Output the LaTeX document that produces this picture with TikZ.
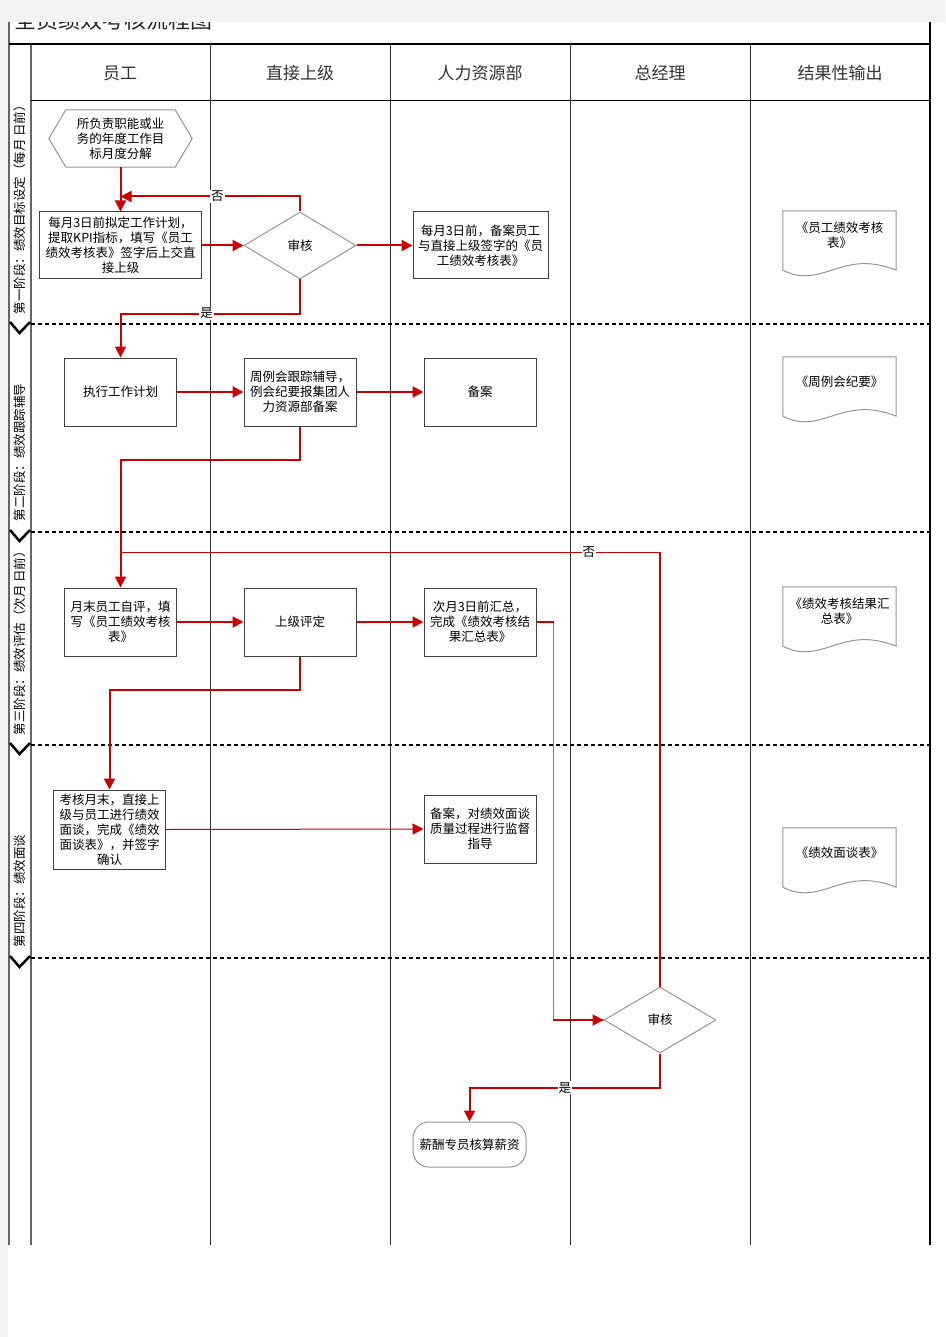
\documentclass[tikz,border=0pt]{standalone}
\usepackage{fontspec}
\setmainfont{Noto Sans CJK SC}
\usetikzlibrary{arrows.meta,calc,shapes.geometric}
\definecolor{flowred}{RGB}{204,0,0}
\definecolor{lightred}{RGB}{222,90,90}
\definecolor{edgegray}{RGB}{150,150,150}
\definecolor{pagegray}{RGB}{243,243,243}

\begin{document}
\begin{tikzpicture}[x=1pt,y=-1pt,
  every node/.style={font=\fontsize{12.5}{15}\selectfont},
  >={Triangle[length=11pt,width=11pt]},
  box/.style={draw=black!75,line width=1pt,fill=white,minimum width=112pt,minimum height=68pt,inner sep=1pt,align=center},
  check/.style={diamond,draw=edgegray,line width=1pt,fill=white,minimum width=112pt,minimum height=67pt,inner sep=0pt},
  docnode/.style={minimum width=113pt,minimum height=49pt,inner sep=0pt,align=center},
  docline/.style={draw=edgegray,line width=1pt,fill=white},
  flow/.style={draw=flowred,line width=2pt,->},
  thinflow/.style={draw=flowred,line width=1pt,->},
  lbl/.style={fill=white,inner sep=1pt},
  lane/.style={draw=black!80,line width=0.8pt},
  sepline/.style={line width=2.5pt,dash pattern=on 4pt off 3pt},
  chev/.style={line width=2.5pt}]
\useasboundingbox (0,0) rectangle (945,1337);
\fill[white] (0,0) rectangle (945,1337);
% title, cut at the top of the sheet
\node[anchor=base west,font=\fontsize{22}{26}\selectfont,text=black!85] (title) at (11,29) {全员绩效考核流程图};
\fill[pagegray] (0,0) rectangle (945,22);
\fill[pagegray] (0,0) rectangle (8,1337);
% frame and lanes
\draw[black!60,line width=1.5pt] (9,22) -- (9,1245);
\draw[black!60,line width=1.5pt] (31,44) -- (31,1245);
\draw[line width=2pt] (930,22) -- (930,1245);
\draw[line width=2.5pt] (9,44) -- (930,44);
\draw[line width=1pt] (31,101) -- (930,101);
\foreach \x in {210,390,570,750} \draw[lane] (\x,44) -- (\x,1245);
\foreach \t [count=\i] in {员工,直接上级,人力资源部,总经理,结果性输出}
  \node[font=\fontsize{17}{20}\selectfont,text=black!80] (head\i) at (180*\i-60,73) {\t};
% phases
\foreach \y in {324,532,745,958}{
  \draw[sepline] (31,\y) -- (930,\y);
  \draw[chev] (10,\y-2) -- (19.5,\y+9) -- (30,\y-2);
}
\node[rotate=90,anchor=west] (ph1) at (20,318) {第一阶段：绩效目标设定（每月 日前）};
\node[rotate=90,anchor=west] (ph2) at (20,525) {第二阶段：绩效跟踪辅导};
\node[rotate=90,anchor=west] (ph3) at (20,739) {第三阶段：绩效评估（次月 日前）};
\node[rotate=90,anchor=west] (ph4) at (20,951) {第四阶段：绩效面谈};

% stage 1
\node[minimum width=143pt,minimum height=57pt,inner sep=0pt,align=center] (goal) at (120.5,138.5) {};
\draw[docline] (goal.west) -- ($(goal.north west)+(17,0)$) -- ($(goal.north east)+(-17,0)$) -- (goal.east)
  -- ($(goal.south east)+(-17,0)$) -- ($(goal.south west)+(17,0)$) -- cycle;
\node[align=center] at (goal) {所负责职能或业\\务的年度工作目\\标月度分解};
\node[box,minimum width=162pt,minimum height=67pt] (plan) at (120.5,245.5) {每月3日前拟定工作计划，\\提取KPI指标，填写《员工\\绩效考核表》签字后上交直\\接上级};
\node[check] (dia1) at (300,245.5) {审核};
\node[box,minimum width=135pt,minimum height=67pt] (rec1) at (480.5,245.5) {每月3日前，备案员工\\与直接上级签字的《员\\工绩效考核表》};
% stage 2
\node[box] (exec) at (120.5,392) {执行工作计划};
\node[box] (weekly) at (300,392) {周例会跟踪辅导，\\例会纪要报集团人\\力资源部备案};
\node[box] (file2) at (480,392) {备案};
% stage 3
\node[box] (self) at (120.5,622) {月末员工自评，填\\写《员工绩效考核\\表》};
\node[box] (rate) at (300,622) {上级评定};
\node[box] (sum) at (480,622) {次月3日前汇总，\\完成《绩效考核结\\果汇总表》};
% stage 4
\node[box,minimum height=79pt] (talk) at (109.5,829.5) {考核月末，直接上\\级与员工进行绩效\\面谈，完成《绩效\\面谈表》，并签字\\确认};
\node[box] (watch) at (480,829) {备案，对绩效面谈\\质量过程进行监督\\指导};
% general manager, payroll
\node[check,minimum height=66pt] (dia2) at (660,1020) {审核};
\node[draw=edgegray,line width=1pt,rounded corners=16pt,minimum width=113pt,minimum height=45pt] (pay) at (469.5,1144.5) {薪酬专员核算薪资};

% output documents
\node[docnode] (dA) at (839.5,235.5) {};
\node[docnode] (dB) at (839.5,381.5) {};
\node[docnode] (dC) at (839.5,611.5) {};
\node[docnode] (dD) at (839.5,852.5) {};
\foreach \d in {dA,dB,dC,dD}
  \draw[docline] (\d.north west) -- ($(\d.south west)+(0,10)$) .. controls +(40,20) and +(-55,-22) .. ($(\d.south east)+(0,10)$) -- (\d.north east) -- cycle;
\node[align=center] at (dA) {《员工绩效考核\\表》};
\node[align=center] at (dB) {《周例会纪要》};
\node[align=center] at (dC) {《绩效考核结果汇\\总表》};
\node[align=center] at (dD) {《绩效面谈表》};

% flows
\draw[flow] (goal.south) -- (plan.north);
\draw[flow] (dia1.north) |- ($(plan.north)+(0,-15)$) node[lbl,pos=0.73]{否};
\draw[flow] (plan.east) -- (dia1.west);
\draw[flow] (dia1.east) -- (rec1.west);
\draw[flow] (dia1.south) -- ++(0,34) -| (exec.north) node[lbl,pos=0.26]{是};
\draw[flow] (exec.east) -- (weekly.west);
\draw[flow] (weekly.east) -- (file2.west);
\draw[flow] (weekly.south) -- ++(0,33) -| (self.north);
\draw[thinflow,-,line width=1.3pt] (dia2.north) |- ($(self.north)+(0,-35)$) node[lbl,pos=0.566]{否};
\draw[flow] (self.east) -- (rate.west);
\draw[flow] (rate.east) -- (sum.west);
\draw[flow] (rate.south) -- ++(0,33) -| (talk.north);
\draw[lightred,line width=1.2pt] (sum.east) -- ++(17,0) |- (dia2.west);
\draw[flow,-] (sum.east) -- ++(17,0);
\draw[flow] ($(dia2.west)+(-51,0)$) -- (dia2.west);
\draw[thinflow] (talk.east) -- (watch.west);
\draw[flow] (dia2.south) -- ++(0,34) -| (pay.north) node[lbl,pos=0.25]{是};
\end{tikzpicture}
\end{document}
